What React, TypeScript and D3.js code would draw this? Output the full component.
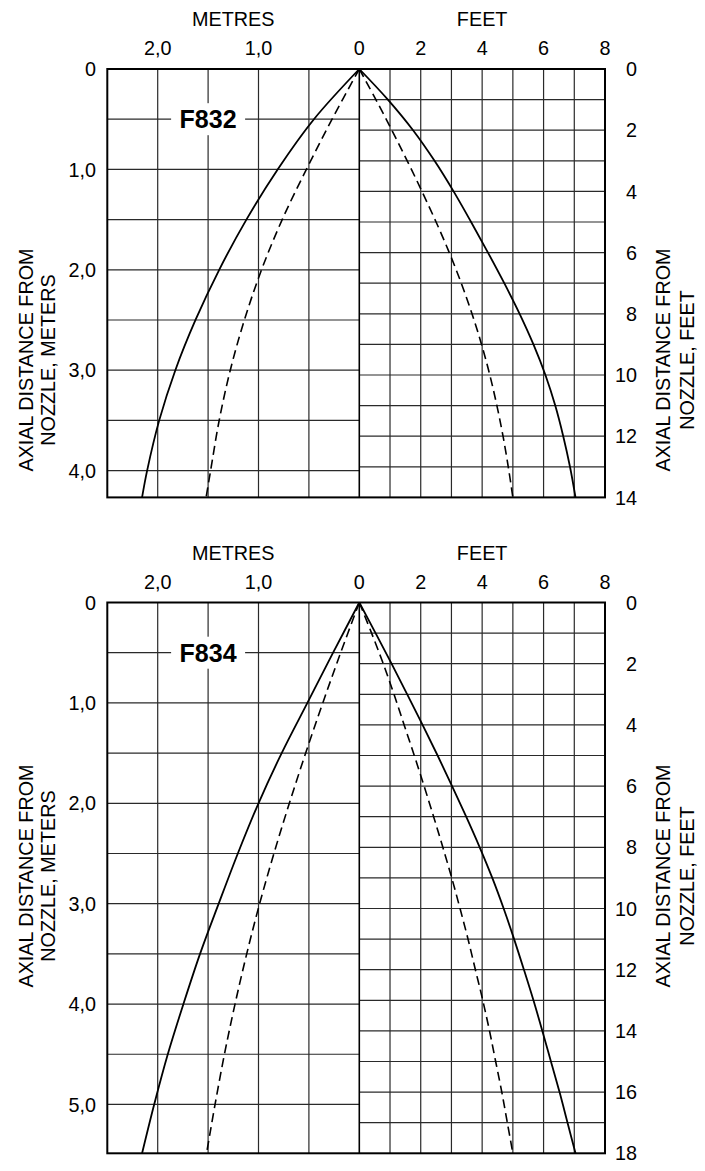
import * as d3 from 'd3';

// F832: depth in metres (left half) and feet (right half)
const f832DepthM = [0, 0.5, 1.0, 1.5, 2.0, 2.5, 3.0, 3.5, 4.0, 4.267];
const f832SolidM = [0, 0.45, 0.81, 1.12, 1.39, 1.625, 1.825, 1.985, 2.105, 2.155];
const f832DashedM = [0, 0.27, 0.525, 0.765, 0.97, 1.14, 1.28, 1.39, 1.475, 1.52];
const f832DepthFt = [0, 1, 2, 3, 4, 5, 6, 7, 8, 9, 10, 11, 12, 13, 14];
const f832SolidFt = [0, 0.93, 1.75, 2.45, 3.07, 3.64, 4.19, 4.72, 5.22, 5.67, 6.06, 6.38, 6.64, 6.86, 7.04];
const f832DashedFt = [0, 0.54, 1.06, 1.56, 2.04, 2.5, 2.93, 3.32, 3.67, 3.98, 4.25, 4.48, 4.68, 4.85, 5.0];

// F834
const f834DepthM = [0, 0.5, 1.0, 1.5, 2.0, 2.5, 3.0, 3.5, 4.0, 4.5, 5.0, 5.486];
const f834SolidM = [0, 0.26, 0.515, 0.77, 1.0, 1.205, 1.395, 1.58, 1.745, 1.9, 2.035, 2.155];
const f834DashedM = [0, 0.185, 0.362, 0.532, 0.694, 0.847, 0.989, 1.117, 1.233, 1.338, 1.431, 1.515];
const f834DepthFt = [0, 1, 2, 3, 4, 5, 6, 7, 8, 9, 10, 11, 12, 13, 14, 15, 16, 17, 18];
const f834SolidFt = [0, 0.53, 1.05, 1.56, 2.06, 2.55, 3.02, 3.48, 3.92, 4.33, 4.7, 5.04, 5.36, 5.67, 5.96, 6.24, 6.52, 6.78, 7.04];
const f834DashedFt = [0, 0.4, 0.78, 1.13, 1.46, 1.79, 2.11, 2.42, 2.72, 3.01, 3.28, 3.54, 3.78, 4.02, 4.24, 4.44, 4.64, 4.82, 5.0];

// axis ticks
const topMetreTicks = [2, 1, 0];
const topFeetTicks = [2, 4, 6, 8];
const leftTicksF832 = [0, 1, 2, 3, 4];
const leftTicksF834 = [0, 1, 2, 3, 4, 5];
const rightTicksF832 = [0, 2, 4, 6, 8, 10, 12, 14];
const rightTicksF834 = [0, 2, 4, 6, 8, 10, 12, 14, 16, 18];
const metreGridX = [0.5, 1.0, 1.5, 2.0];
const feetGridX = [1, 2, 3, 4, 5, 6, 7];

const FONT = '"Liberation Sans", Arial, Helvetica, sans-serif';
const FS = 19.8;
const PX_FT = 30.6;

const fmtM = (d: number) => (d === 0 ? '0' : d.toFixed(1).replace('.', ','));

type PanelProps = {
  top: number;
  ftMax: number;
  label: string;
  titleY: number;
  depthM: number[];
  solidM: number[];
  dashedM: number[];
  depthFt: number[];
  solidFt: number[];
  dashedFt: number[];
  leftTicks: number[];
  rightTicks: number[];
};

function Panel(p: PanelProps) {
  const xM = d3.scaleLinear().domain([0, 2.5]).range([359.3, 107.3]);
  const xFt = d3.scaleLinear().domain([0, 8]).range([359.3, 605]);
  const bottom = p.top + p.ftMax * PX_FT;
  const mMax = p.ftMax * 0.3048;
  const yFt = d3.scaleLinear().domain([0, p.ftMax]).range([p.top, bottom]);
  const yM = d3.scaleLinear().domain([0, mMax]).range([p.top, bottom]);

  const left = xM(2.5);
  const right = xFt(8);
  const mid = xM(0);

  const metreGridY = d3.range(0.5, mMax - 0.01, 0.5);
  const feetGridY = d3.range(1, p.ftMax, 1);

  const lineM = d3.line<number>()
    .x(d => xM(d))
    .y((d, i) => yM(p.depthM[i]))
    .curve(d3.curveCatmullRom.alpha(0.5));
  const lineFt = d3.line<number>()
    .x(d => xFt(d))
    .y((d, i) => yFt(p.depthFt[i]))
    .curve(d3.curveCatmullRom.alpha(0.5));

  const gridStroke = '#2a2a2a';
  const lx = xM(1.5);
  const ly = yM(0.5);

  return (
    <g fontFamily={FONT} fontSize={FS} fill="#000">
      {/* top titles */}
      <text x={(left + mid) / 2} y={p.top - 43} textAnchor="middle">METRES</text>
      <text x={(mid + right) / 2} y={p.top - 43} textAnchor="middle">FEET</text>
      {topMetreTicks.map(t => (
        <text key={'tm' + t} x={xM(t)} y={p.top - 14} textAnchor="middle">{fmtM(t)}</text>
      ))}
      {topFeetTicks.map(t => (
        <text key={'tf' + t} x={xFt(t)} y={p.top - 14} textAnchor="middle">{t}</text>
      ))}

      {/* grid, metres half */}
      {metreGridX.map(v => (
        <line key={'mx' + v} x1={xM(v)} x2={xM(v)} y1={p.top} y2={bottom} stroke={gridStroke} strokeWidth={1.2} />
      ))}
      {metreGridY.map(v => (
        <line key={'my' + v} x1={left} x2={mid} y1={yM(v)} y2={yM(v)} stroke={gridStroke} strokeWidth={1.2} />
      ))}
      {/* grid, feet half */}
      {feetGridX.map(v => (
        <line key={'fx' + v} x1={xFt(v)} x2={xFt(v)} y1={p.top} y2={bottom} stroke={gridStroke} strokeWidth={1.2} />
      ))}
      {feetGridY.map(v => (
        <line key={'fy' + v} x1={mid} x2={right} y1={yFt(v)} y2={yFt(v)} stroke={gridStroke} strokeWidth={1.2} />
      ))}

      {/* label box */}
      <rect x={lx - 37} y={ly - 16} width={74} height={32} fill="#fff" />
      <text x={lx} y={ly} dy="0.36em" textAnchor="middle" fontWeight="bold" fontSize={25}>{p.label}</text>

      {/* curves */}
      <path d={lineM(p.solidM) || ''} fill="none" stroke="#000" strokeWidth={1.8} />
      <path d={lineM(p.dashedM) || ''} fill="none" stroke="#000" strokeWidth={1.6} strokeDasharray="9,5" />
      <path d={lineFt(p.solidFt) || ''} fill="none" stroke="#000" strokeWidth={1.8} />
      <path d={lineFt(p.dashedFt) || ''} fill="none" stroke="#000" strokeWidth={1.6} strokeDasharray="9,5" />

      {/* centre line and frame */}
      <line x1={mid} x2={mid} y1={p.top} y2={bottom} stroke="#000" strokeWidth={1.6} />
      <rect x={left} y={p.top} width={right - left} height={bottom - p.top} fill="none" stroke="#000" strokeWidth={2} />

      {/* left ticks */}
      {p.leftTicks.map(t => (
        <text key={'l' + t} x={96} y={yM(t)} dy="0.36em" textAnchor="end">{fmtM(t)}</text>
      ))}
      {/* right ticks */}
      {p.rightTicks.map(t => (
        <text key={'r' + t} x={637} y={yFt(t)} dy="0.36em" textAnchor="end">{t}</text>
      ))}

      {/* axis titles */}
      <text transform={`translate(33,${p.titleY}) rotate(-90)`} textAnchor="middle">AXIAL DISTANCE FROM</text>
      <text transform={`translate(55,${p.titleY}) rotate(-90)`} textAnchor="middle">NOZZLE, METERS</text>
      <text transform={`translate(670,${p.titleY}) rotate(-90)`} textAnchor="middle">AXIAL DISTANCE FROM</text>
      <text transform={`translate(694,${p.titleY}) rotate(-90)`} textAnchor="middle">NOZZLE, FEET</text>
    </g>
  );
}

export default function App() {
  return (
    <svg width={705} height={1171} style={{ position: 'absolute', left: 0, top: 0, background: '#fff' }}>
      <Panel
        top={69}
        ftMax={14}
        label="F832"
        titleY={360}
        depthM={f832DepthM}
        solidM={f832SolidM}
        dashedM={f832DashedM}
        depthFt={f832DepthFt}
        solidFt={f832SolidFt}
        dashedFt={f832DashedFt}
        leftTicks={leftTicksF832}
        rightTicks={rightTicksF832}
      />
      <Panel
        top={602.5}
        ftMax={18}
        label="F834"
        titleY={876}
        depthM={f834DepthM}
        solidM={f834SolidM}
        dashedM={f834DashedM}
        depthFt={f834DepthFt}
        solidFt={f834SolidFt}
        dashedFt={f834DashedFt}
        leftTicks={leftTicksF834}
        rightTicks={rightTicksF834}
      />
    </svg>
  );
}
